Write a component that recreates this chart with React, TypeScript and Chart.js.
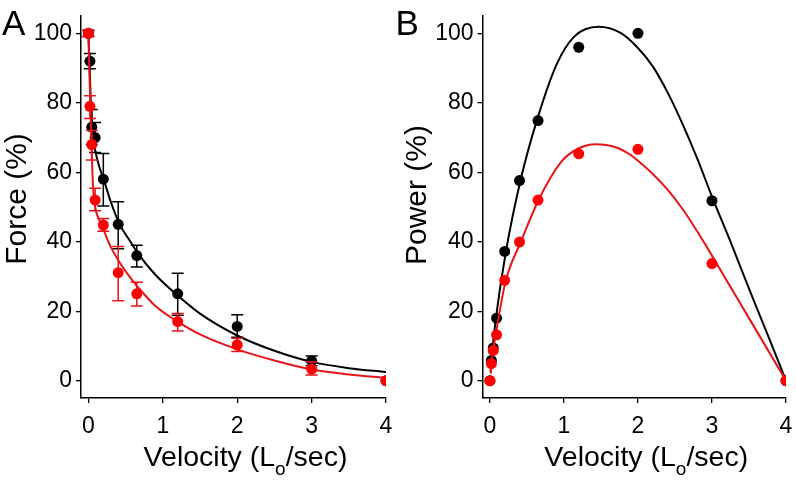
import React, { useEffect, useRef } from 'react';
import { Chart, registerables } from 'chart.js';

Chart.register(...registerables);

const FONT = '"Liberation Sans", Arial, Helvetica, sans-serif';
const BLACK = '#000000';
const RED = '#ff0000';
const RED_LINE = '#e8141a';

// ---------- measured data ----------
const velocities = [0, 0.02, 0.045, 0.09, 0.2, 0.4, 0.65, 1.2, 2, 3, 4];

const forceBlack = [100, 92, 73, 70, 58, 45, 36, 25, 15.6, 5.7, 0];
const forceBlackHi = [100.8, 94.2, 78.1, 74.3, 65.4, 51.5, 39, 30.9, 19, 7.1, 0];
const forceBlackLo = [99.2, 89.8, 68, 65.7, 50.3, 38, 32.7, 18.8, 12.5, 4.3, 0];

const forceRed = [100, 79, 68, 52, 44.8, 31.1, 25, 17, 10.3, 3.3, 0];
const forceRedHi = [101, 82, 72, 55.4, 46.7, 38.6, 28.3, 19.3, 12.2, 5.4, 0];
const forceRedLo = [99, 75.5, 63.5, 48.9, 43, 23, 21.5, 14.3, 8.4, 1.6, 0];

const powerBlack = [0, 5.8, 9.4, 18, 37.2, 57.6, 74.9, 96, 100, 51.8, 0];
const powerRed = [0, 4.9, 8.7, 13.2, 28.9, 39.9, 52, 65.3, 66.6, 33.7, 0];

// ---------- fitted curves ----------
const fitForceBlackV = [0, 0.01, 0.02, 0.03, 0.045, 0.065, 0.09, 0.14, 0.2, 0.3, 0.42, 0.55, 0.67, 0.9, 1.2, 1.5, 2, 2.5, 3, 3.5, 4];
const fitForceBlackF = [100, 94, 88, 81, 75, 70, 66.5, 62, 58.3, 51.5, 45, 40.5, 36.5, 30.5, 24.5, 19.3, 13, 8.6, 5.4, 3.6, 2.5];

const fitForceRedV = [0, 0.01, 0.025, 0.04, 0.055, 0.07, 0.1, 0.15, 0.2, 0.3, 0.42, 0.55, 0.67, 0.9, 1.2, 1.5, 2, 2.5, 3, 3.5, 4];
const fitForceRedF = [100, 91, 80, 68, 59, 53.5, 49, 46, 43.6, 38.5, 34, 30, 26.8, 21.5, 17, 13.3, 9, 5.8, 3.2, 1.8, 0.8];

const fitPowerBlackV = [0.01, 0.03, 0.08, 0.215, 0.417, 0.64, 0.9, 1.135, 1.47, 1.76, 2.0, 2.2, 2.4, 2.6, 2.8, 3.0, 3.25, 3.5, 3.75, 4];
const fitPowerBlackP = [2.5, 8, 17.8, 37, 58, 75.3, 91, 99, 101.9, 100.2, 95.8, 90.5, 83, 74, 64, 53, 40, 26.5, 13.3, 0];

const fitPowerRedV = [0.01, 0.03, 0.08, 0.215, 0.417, 0.664, 0.955, 1.18, 1.43, 1.7, 1.9, 2.0, 2.2, 2.4, 2.6, 2.8, 3.0, 3.25, 3.5, 3.75, 4];
const fitPowerRedP = [2, 6.5, 13.5, 28.8, 39.9, 52.3, 62.8, 66.7, 68.1, 67.2, 65, 63.3, 59.5, 55, 49.5, 43, 36, 27, 18, 9, 0];

const xTicks = [0, 1, 2, 3, 4];
const yTicks = [0, 20, 40, 60, 80, 100];

const pts = (xs: number[], ys: number[]) => xs.map((x, i) => ({ x, y: ys[i] }));

// ---------- plugins ----------
const errorBarPlugin = {
  id: 'errorBars',
  beforeDatasetDraw(chart: any, args: any) {
    const ds: any = chart.data.datasets[args.index];
    if (!ds.errHi) return;
    const xs = chart.scales.x;
    const ys = chart.scales.y;
    const ctx = chart.ctx;
    ctx.save();
    ctx.strokeStyle = ds.errColor;
    ctx.lineWidth = 1.5;
    ds.data.forEach((p: any, i: number) => {
      const x = xs.getPixelForValue(p.x);
      const y1 = ys.getPixelForValue(ds.errHi[i]);
      const y2 = ys.getPixelForValue(ds.errLo[i]);
      if (Math.abs(y2 - y1) < 0.5) return;
      ctx.beginPath();
      ctx.moveTo(x, y1);
      ctx.lineTo(x, y2);
      ctx.moveTo(x - 6, y1);
      ctx.lineTo(x + 6, y1);
      ctx.moveTo(x - 6, y2);
      ctx.lineTo(x + 6, y2);
      ctx.stroke();
    });
    ctx.restore();
  },
};

const titlesPlugin = {
  id: 'panelTitles',
  afterDraw(chart: any, _args: any, opts: any) {
    const ctx = chart.ctx;
    const ca = chart.chartArea;
    ctx.save();
    ctx.fillStyle = '#000';
    // panel letter
    ctx.font = `35px ${FONT}`;
    ctx.textAlign = 'left';
    ctx.textBaseline = 'alphabetic';
    ctx.fillText(opts.letter, opts.letterX, 35);
    // y title
    ctx.save();
    ctx.font = `30px ${FONT}`;
    ctx.translate(opts.yTitleX, opts.yTitleY);
    ctx.rotate(-Math.PI / 2);
    ctx.textAlign = 'center';
    ctx.fillText(opts.yTitle, 0, 0);
    ctx.restore();
    // x title with subscript
    const big = `28.5px ${FONT}`;
    const small = `19px ${FONT}`;
    const p1 = 'Velocity (L';
    const sub = 'o';
    const p2 = '/sec)';
    ctx.font = big;
    const w1 = ctx.measureText(p1).width;
    const w3 = ctx.measureText(p2).width;
    ctx.font = small;
    const w2 = ctx.measureText(sub).width;
    const total = w1 + w2 + w3;
    const cx = (ca.left + ca.right) / 2 + opts.xTitleShift;
    let x = cx - total / 2;
    const base = opts.xTitleY;
    ctx.textAlign = 'left';
    ctx.font = big;
    ctx.fillText(p1, x, base);
    x += w1;
    ctx.font = small;
    ctx.fillText(sub, x, base + 9);
    x += w2;
    ctx.font = big;
    ctx.fillText(p2, x, base);
    ctx.restore();
  },
};

const zeroPad = (s: any) => {
  s.paddingLeft = 0;
  s.paddingRight = 0;
  s.paddingTop = 0;
  s.paddingBottom = 0;
};

function makeConfig(o: any) {
  return {
    type: 'scatter',
    data: { datasets: o.datasets },
    options: {
      responsive: false,
      maintainAspectRatio: false,
      animation: false,
      events: [],
      layout: { padding: { left: 0, right: o.rightPad, top: 16, bottom: 0 } },
      plugins: {
        legend: { display: false },
        tooltip: { enabled: false },
        panelTitles: o.titles,
      },
      scales: {
        x: {
          type: 'linear',
          min: -0.1,
          max: 4,
          afterFit: (s: any) => { s.height = 83; zeroPad(s); },
          afterBuildTicks: (s: any) => { s.ticks = xTicks.map((v) => ({ value: v })); },
          ticks: { color: '#000', font: { size: 23, family: FONT }, padding: 10, maxRotation: 0 },
          grid: { drawOnChartArea: false, drawTicks: true, tickLength: 5, color: '#000', lineWidth: 1.3 },
          border: { display: true, color: '#000', width: 1.5 },
        },
        y: {
          type: 'linear',
          min: -5,
          max: 105,
          afterFit: (s: any) => { s.width = o.yWidth; zeroPad(s); },
          afterBuildTicks: (s: any) => { s.ticks = yTicks.map((v) => ({ value: v })); },
          ticks: { color: '#000', font: { size: 23, family: FONT }, padding: 4 },
          grid: { drawOnChartArea: false, drawTicks: true, tickLength: 5, color: '#000', lineWidth: 1.3 },
          border: { display: true, color: '#000', width: 1.5 },
        },
      },
    },
    plugins: [errorBarPlugin, titlesPlugin],
  };
}

function curve(data: any[], color: string, order: number) {
  return {
    data,
    showLine: true,
    borderColor: color,
    borderWidth: 2,
    pointRadius: 0,
    cubicInterpolationMode: 'monotone',
    fill: false,
    order,
  };
}

function dots(data: any[], color: string, order: number, extra: any = {}) {
  return {
    data,
    showLine: false,
    backgroundColor: color,
    borderColor: color,
    borderWidth: 0,
    pointRadius: 5.5,
    order,
    ...extra,
  };
}

function Panel({ left, width, config }: { left: number; width: number; config: any }) {
  const ref = useRef<HTMLCanvasElement | null>(null);
  useEffect(() => {
    if (!ref.current) return;
    const chart = new Chart(ref.current, config);
    return () => chart.destroy();
  }, [config]);
  return (
    <canvas
      ref={ref}
      width={width}
      height={481}
      style={{ position: 'absolute', left, top: 0, width, height: 481 }}
    />
  );
}

const configA = makeConfig({
  rightPad: 12,
  yWidth: 81,
  titles: { letter: 'A', letterX: 2, yTitle: 'Force (%)', yTitleX: 25.5, yTitleY: 199, xTitleShift: 12, xTitleY: 466 },
  datasets: [
    dots(pts(velocities, forceRed), RED, 0, { errHi: forceRedHi, errLo: forceRedLo, errColor: RED_LINE }),
    curve(pts(fitForceRedV, fitForceRedF), RED_LINE, 1),
    dots(pts(velocities, forceBlack), BLACK, 2, { errHi: forceBlackHi, errLo: forceBlackLo, errColor: BLACK }),
    curve(pts(fitForceBlackV, fitForceBlackF), BLACK, 3),
  ],
});

const configB = makeConfig({
  rightPad: 10,
  yWidth: 88.5,
  titles: { letter: 'B', letterX: 1.5, yTitle: 'Power (%)', yTitleX: 32, yTitleY: 195, xTitleShift: 12, xTitleY: 466 },
  datasets: [
    dots(pts(velocities, powerRed), RED, 0),
    curve(pts(fitPowerRedV, fitPowerRedP), RED_LINE, 1),
    dots(pts(velocities, powerBlack), BLACK, 2),
    curve(pts(fitPowerBlackV, fitPowerBlackP), BLACK, 3),
  ],
});

export default function App() {
  return (
    <div style={{ position: 'fixed', left: 0, top: 0, width: 796, height: 481, background: '#fff', overflow: 'hidden' }}>
      <Panel left={0} width={398} config={configA} />
      <Panel left={394} width={402} config={configB} />
    </div>
  );
}
